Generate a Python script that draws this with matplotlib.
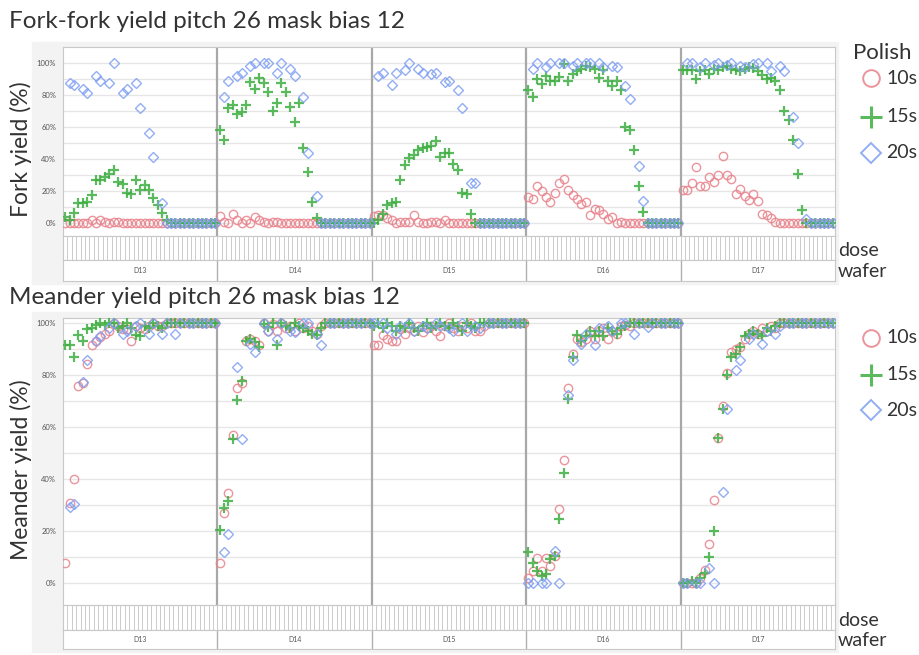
import numpy as np
import matplotlib.pyplot as plt
from matplotlib.patches import Rectangle
from matplotlib.lines import Line2D

N = np.nan
wafers = ['D13', 'D14', 'D15', 'D16', 'D17']
n_dose = 35
polish = ['10s', '15s', '20s']

# fork-fork yield (%), 35 doses per wafer, wafers D13..D17
fork_10s = [
    0, 0, 0, 0, 0, 0, 2, 0, 2, 1, 0, 0.5, 1, 0, 0, 0, 0, 0, 0, 0, 0, 0, 0, 0, 0, 0, 0, 0, 0, 0, 0, 0, 0, 0, 0,
    4.5, 0.5, 0, 6, 2, 0, 2, 0, 4, 2, 1, 0, 1, 0.5, 0, 0, 0, 0, 0, 0, 0, 0, 0, 0, 0, 0, 0, 0, 0, 0, 0, 0, 0, 0, 0,
    4.4, 5, 5, 3, 2, 0, 1, 1, 1, 5, 1, 0, 0, 1, 1, 0, 2, 0, 0, 0, 0, 0, 0, 0, 0, 0, 0, 0, 0, 0, 0, 0, 0, 0, 0,
    16.6, 15, 23, 20, 16.6, 13, 19, 25, 27.5, 20.6, 17.7, 15, 12, 13.5, 5, 9, 8, 6, 2.5, 4, 0, 1, 0, 0, 0, 0, 0, 0, 0, 0, 0, 0, 0, 0, 0,
    20.8, 20.6, 25, 35, 23.5, 23, 29, 25.6, 30, 42, 30, 27.5, 18, 21.6, 17, 14.6, 18, 14, 6, 5, 3, 1, 0, 0, 0, 0, 0, 0, 0, 0, 0, 0, 0, 0, 0,
]
fork_15s = [
    4, 2, 6.5, 12.5, 12.5, 13, 17.5, 27, 27, 29, 31, 33.5, 26, 24.5, 18.8, 18, 27, 21, 24, 21, 16, 11.6, 6.6, 2, 0, 0, 0, 0, 0, 0, 0, 0, 0, 0, 0,
    58, 52, 72, 74, 68, 69.5, 74, 88, 84, 90.6, 87.5, 81.6, 70, 75, 87.5, 81.6, 72.5, 63, 75, 47, 32, 13, 3, 0, 0, 0, 0, 0, 0, 0, 0, 0, 0, 0, 0,
    0, 2, 6, 11.4, 12.5, 13, 27, 36.4, 40.6, 42.7, 45.8, 47, 47.5, 48.5, 51.4, 41.6, 43.7, 43.7, 37, 33.3, 18.8, 18, 6, 0, 0, 0, 0, 0, 0, 0, 0, 0, 0, 0, 0,
    83, 79, 90, 87, 92, 88.5, 89, 91.4, 99.5, 88.5, 93, 95, 96.4, 98, 97.5, 96.4, 90.6, 95.8, 89, 85.8, 89, 83, 60, 58, 45.8, 23, 7, 0, 0, 0, 0, 0, 0, 0, 0,
    95.8, 95.4, 95.4, 90, 95, 95.8, 93, 96.4, 95.4, 97.5, 98, 96.4, 95.4, 94.8, 96.4, 97.5, 97, 95, 92.7, 90, 90.6, 89, 83, 70, 64.6, 52, 31, 8, 0, 0, 0, 0, 0, 0, 0,
]
fork_20s = [
    N, 87.5, 86.5, N, 83.7, 81, N, 92, 89, N, 87.5, 100, N, 81, 83.5, N, 87.5, 72, N, 56, 41.6, N, 12.5, 0, 0, 0, 0, 0, 0, 0, 0, 0, 0, 0, 0,
    N, 79, 89, N, 91.6, 94, N, 98, 100, N, 100, 100, N, 94, 100, N, 96, 91.6, N, 79, 44, N, 17, 0, 0, 0, 0, 0, 0, 0, 0, 0, 0, 0, 0,
    N, 91.6, 94, N, 86.4, 94, N, 95.8, 100, N, 96, 94, N, 93, 94, N, 88, 89, N, 83, 72, N, 25, 25, 0, 0, 0, 0, 0, 0, 0, 0, 0, 0, 0,
    N, 96, 100, N, 97.5, 100, N, 100, 100, N, 98, 100, N, 100, 100, N, 100, 97.5, N, 98, 97.5, N, 85.4, 77.5, N, 35.4, 14, 0, 0, 0, 0, 0, 0, 0, 0,
    N, 100, 100, N, 97.5, 100, N, 99, 100, N, 99, 100, N, 98, 97.5, N, 99.5, 100, N, 100, 94.8, N, 98, 94.8, N, 66.6, 50, N, 2.5, 0, 0, 0, 0, 0, 0,
]

# meander yield (%)
meander_10s = [
    8, 31, 40, 76, 77, 84.4, 91.7, 93, 94.6, 95.7, 97, 100, 99, 97.7, 97.7, 93, 99, 98, 97.6, 99, 100, 99, 99, 100, 100, 100, 100, 100, 100, 100, 100, 100, 100, 100, 100,
    8, 27, 34.7, 57, 75, 77, 93, 94, 93, 91.5, 100, 97, 99.7, 97, 100, 98, 99, 97, 100, 98, 99, 97, 96, 99, 100, 100, 100, 100, 100, 100, 100, 100, 100, 100, 100,
    91.7, 91.7, 95.6, 94, 93, 93, 97.6, 96, 98, 97, 99, 96.5, 98, 99, 97, 95.2, 99, 100, 98, 97, 99, 98, 100, 97, 97, 99, 100, 100, 100, 100, 100, 100, 100, 100, 100,
    2, 4.6, 9.6, 4.6, 9.6, 6.7, 10.6, 28.5, 47.5, 75, 88, 94, 92.7, 94, 97, 94, 97, 98, 94, 97, 96, 99, 99.5, 99, 100, 100, 100, 100, 100, 100, 100, 100, 100, 100, 100,
    0, 0, 0, 0, 2, 5, 15, 32, 56, 68, 81, 89, 90, 91, 94, 96, 97, 96, 98, 97, 99, 98, 100, 100, 100, 100, 100, 100, 100, 100, 100, 100, 100, 100, 100,
]
meander_15s = [
    91.7, 91.7, 87, 95.6, 93, 97.7, 98, 99.5, 100, 99.5, 100, 100, 98, 99, 100, 98, 95.6, 95, 99, 98, 100, 99, 98, 100, 100, 100, 100, 100, 100, 100, 100, 100, 100, 100, 100,
    20.6, 29, 31.6, 55.4, 70.6, 77.6, 93, 94, 92.7, 91, 99.7, 98.7, 100, 91.5, 100, 99, 98, 100, 99, 98, 97, 96, 95.6, 98, 100, 100, 100, 100, 100, 100, 100, 100, 100, 100, 100,
    99, 100, 98, 100, 99, 97, 99, 98, 100, 98, 97, 99, 100, 98, 99, 100, 99, 98, 100, 99, 97, 100, 99, 98, 100, 100, 100, 100, 100, 100, 100, 100, 100, 100, 100,
    12.2, 8, 4.6, 3, 3.5, 9.5, 10.6, 24.7, 42.6, 70.8, 87, 95.6, 93, 95, 97, 95, 97, 95, 98, 97, 96, 98, 99, 100, 100, 100, 100, 100, 100, 100, 100, 100, 100, 100, 100,
    0, 0, 1, 0, 2, 4, 10, 20, 56, 67, 80, 87, 88, 91, 95, 96, 97, 96, 95, 98, 97, 99, 100, 100, 100, 100, 100, 100, 100, 100, 100, 100, 100, 100, 100,
]
meander_20s = [
    N, 29.5, 30.5, N, 77.5, 86, N, 93, 95, N, 98, 100, N, 96, 97, N, 99, 100, N, 96, 100, N, 96, 100, N, 96, 100, N, 100, 100, N, 100, 100, N, 100,
    N, 12, 19, N, 83, 55.4, N, 92, 88.8, N, 100, 97, N, 94, 100, N, 97, 96.8, N, 100, 100, N, 96, 91.7, N, 100, 100, N, 100, 100, N, 100, 100, N, 100,
    100, N, 100, 98, N, 96, 99, N, 100, 97, N, 99, 98, N, 100, 99, N, 98, 97, N, 100, 97, N, 99, 98, N, 100, 100, N, 100, 100, N, 100, 100, N,
    0, 0, N, 0, 0, N, 12.6, 0, N, 72.5, 86, N, 92, 96, N, 91.5, 98, N, 99, 97, N, 100, 100, N, 96, 100, N, 98.7, 100, N, 100, 100, N, 100, 100,
    0, 0, N, 0, 0, N, 6, 0, N, 35, 67, N, 82, 86, N, 94, 96, N, 92, 97, N, 96, 99, N, 100, 100, N, 100, 100, N, 100, 100, N, 100, 100,
]

plt.rcParams['font.family'] = ['Lato', 'DejaVu Sans']

W, H = 920, 655
fig = plt.figure(figsize=(W / 100, H / 100), dpi=100)

styles = [
    dict(marker='o', color='#e8828b', ms=6.0),
    dict(marker='+', color='#3fae42', ms=7.2),
    dict(marker='D', color='#7f9ff2', ms=5.0),
]
txt = '#333333'


def box(x0, y0, x1, y1):
    return [x0 / W, 1 - y1 / H, (x1 - x0) / W, (y1 - y0) / H]


def panel(series, y_top, y_plot_bot, y_dose_bot, y_wafer_bot, ylim, title, title_y, ylabel, bg):
    fig.add_artist(Rectangle((bg[0] / W, 1 - bg[3] / H), (bg[2] - bg[0]) / W, (bg[3] - bg[1]) / H,
                             transform=fig.transFigure, color='#f3f3f3', zorder=0))
    fig.text(9 / W, 1 - title_y / H, title, fontsize=17.5, color=txt, va='center', ha='left')

    n = len(wafers) * n_dose
    x = np.arange(n)
    ax = fig.add_axes(box(63, y_top, 835, y_plot_bot))
    ax.set_xlim(-0.5, n - 0.5)
    ax.set_ylim(*ylim)
    for y in range(0, 101, 10):
        ax.axhline(y, color='#e6e6e6', lw=1, zorder=1)
    for w in range(1, len(wafers)):
        ax.axvline(w * n_dose - 0.5, color='#a8a8a8', lw=1.6, zorder=2)
    for vals, st in zip(series, styles):
        mew = 1.6 if st['marker'] == '+' else 1.0
        ax.plot(x, vals, ls='none', marker=st['marker'], ms=st['ms'], mfc='none',
                mec=st['color'], mew=mew, alpha=0.85, zorder=3)
    ax.set_yticks(range(0, 101, 20))
    ax.set_yticklabels([f'{v}%' for v in range(0, 101, 20)], fontsize=5.5, color='#555555')
    ax.tick_params(axis='y', length=0, pad=5)
    ax.set_xticks([])
    for s in ax.spines.values():
        s.set_color('#c8c8c8')
    yc = (y_top + y_plot_bot) / 2 + 8
    fig.text(21 / W, 1 - yc / H, ylabel, fontsize=16.5, color=txt, rotation=90,
             ha='center', va='center')

    dax = fig.add_axes(box(63, y_plot_bot, 835, y_dose_bot))
    dax.set_xlim(-0.5, n - 0.5)
    for i in range(n + 1):
        dax.axvline(i - 0.5, color='#c4c4c4', lw=0.6)
    dax.set_xticks([])
    dax.set_yticks([])
    for s in dax.spines.values():
        s.set_color('#c8c8c8')

    wax = fig.add_axes(box(63, y_dose_bot, 835, y_wafer_bot))
    wax.set_xlim(-0.5, n - 0.5)
    wax.set_ylim(0, 1)
    for w, name in enumerate(wafers):
        wax.text(w * n_dose + (n_dose - 1) / 2, 0.5, name, fontsize=5, color='#555555',
                 ha='center', va='center')
        if w:
            wax.axvline(w * n_dose - 0.5, color='#b0b0b0', lw=1)
    wax.set_xticks([])
    wax.set_yticks([])
    for s in wax.spines.values():
        s.set_color('#c8c8c8')

    fig.text(838 / W, 1 - ((y_plot_bot + y_dose_bot) / 2 + 3) / H, 'dose', fontsize=14, color=txt, va='center')
    fig.text(838 / W, 1 - ((y_dose_bot + y_wafer_bot) / 2 + 1) / H, 'wafer', fontsize=14, color=txt, va='center')


def legend(ys, with_title):
    if with_title:
        fig.text(853 / W, 1 - 53 / H, 'Polish', fontsize=16, color=txt, va='center')
    for y, st, lab in zip(ys, styles, polish):
        big = dict(o=12, D=10.5)
        ms = big.get(st['marker'], 16)
        mew = 2.2 if st['marker'] == '+' else 1.4
        fig.add_artist(Line2D([871 / W], [1 - y / H], marker=st['marker'], ms=ms, mfc='none',
                              mec=st['color'], mew=mew, alpha=0.85, transform=fig.transFigure))
        fig.text(886 / W, 1 - y / H, lab, fontsize=14, color=txt, va='center')


panel([fork_10s, fork_15s, fork_20s], 47, 236, 260, 281, (-8, 110),
      'Fork-fork yield pitch 26 mask bias 12', 22, 'Fork yield (%)', (32, 42, 838, 284))
legend([78, 117, 153], True)

panel([meander_10s, meander_15s, meander_20s], 318, 605, 630, 649, (-8.3, 102),
      'Meander yield pitch 26 mask bias 12', 298, 'Meander yield (%)', (32, 312, 838, 652))
legend([338, 375, 410], False)

fig.savefig('out.png', dpi=100)
